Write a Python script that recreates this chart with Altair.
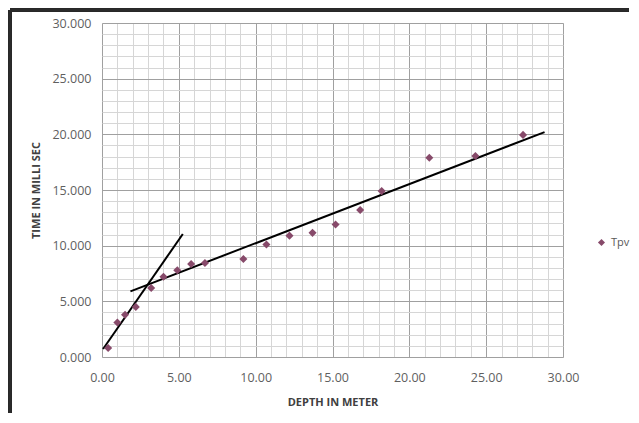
import altair as alt
import pandas as pd

# Tpv observations
depth = [0.4, 1.0, 1.5, 2.2, 3.2, 4.0, 4.9, 5.8, 6.7, 9.2, 10.7, 12.2, 13.7, 15.2, 16.8, 18.2, 21.3, 24.3, 27.4]
time_ms = [0.8, 3.1, 3.8, 4.5, 6.2, 7.2, 7.8, 8.35, 8.45, 8.8, 10.1, 10.9, 11.15, 11.9, 13.2, 14.9, 17.9, 18.05, 19.95]

# fitted straight lines (end points)
line1_x = [0.07, 5.26]
line1_y = [0.72, 11.05]
line2_x = [1.85, 28.8]
line2_y = [5.9, 20.2]

grid_values = list(range(0, 31))

pts = pd.DataFrame({"depth": depth, "time": time_ms, "series": ["Tpv"] * len(depth)})
lines = pd.DataFrame({
    "depth": line1_x + line2_x,
    "time": line1_y + line2_y,
    "seg": ["a", "a", "b", "b"],
})

FONT = "Open Sans"
grid_cond = {"condition": {"test": "datum.value % 5 === 0", "value": "#a0a0a0"}, "value": "#d6d6d6"}

x_axis = alt.Axis(
    values=grid_values,
    labelExpr="datum.value % 5 === 0 ? format(datum.value, '.2f') : ''",
    grid=True, gridColor=grid_cond, gridWidth=1,
    ticks=False, domain=False,
    labelFont=FONT, labelFontSize=12.5, labelColor="#5f5f5f", labelPadding=14,
    labelFlush=False, labelOverlap=False,
    title="DEPTH IN METER", titleFont=FONT, titleFontSize=11, titleFontWeight="bold",
    titleColor="#404040", titlePadding=13,
)
y_axis = alt.Axis(
    values=grid_values,
    labelExpr="datum.value % 5 === 0 ? format(datum.value, '.3f') : ''",
    grid=True, gridColor=grid_cond, gridWidth=1,
    ticks=False, domain=False,
    labelFont=FONT, labelFontSize=12.5, labelColor="#5f5f5f", labelPadding=11,
    labelFlush=False, labelOverlap=False,
    title="TIME IN MILLI SEC", titleFont=FONT, titleFontSize=11, titleFontWeight="bold",
    titleColor="#404040", titlePadding=10,
)

xs = alt.Scale(domain=[0, 30], nice=False)
ys = alt.Scale(domain=[0, 30], nice=False)

points = alt.Chart(pts).mark_point(filled=True, shape="diamond", size=65, opacity=1).encode(
    x=alt.X("depth:Q", scale=xs, axis=x_axis),
    y=alt.Y("time:Q", scale=ys, axis=y_axis),
    color=alt.Color(
        "series:N",
        scale=alt.Scale(range=["#874a6a"]),
        legend=alt.Legend(
            title=None, orient="none", legendX=494, legendY=214,
            symbolType="diamond", symbolSize=50, symbolStrokeWidth=0,
            labelFont=FONT, labelFontSize=11, labelColor="#595959", labelOffset=4,
        ),
    ),
)

fit = alt.Chart(lines).mark_line(color="black", strokeWidth=2).encode(
    x=alt.X("depth:Q", scale=xs, axis=x_axis),
    y=alt.Y("time:Q", scale=ys, axis=y_axis),
    detail="seg:N",
)

frame_left = alt.Chart(pts).mark_rule(color="#2b2b2b", strokeWidth=2.5, clip=False).encode(
    x=alt.value(-92), y=alt.value(-13), y2=alt.value(390)
)
frame_top = alt.Chart(pts).mark_rule(color="#2b2b2b", strokeWidth=2.5, clip=False).encode(
    x=alt.value(-92), x2=alt.value(527), y=alt.value(-13)
)

chart = alt.layer(fit, points, frame_left, frame_top).properties(
    width=461, height=334, padding=0,
).configure_view(stroke=None).configure(background="white")

chart.save("out.html", embed_options={"renderer": "svg", "actions": False})
